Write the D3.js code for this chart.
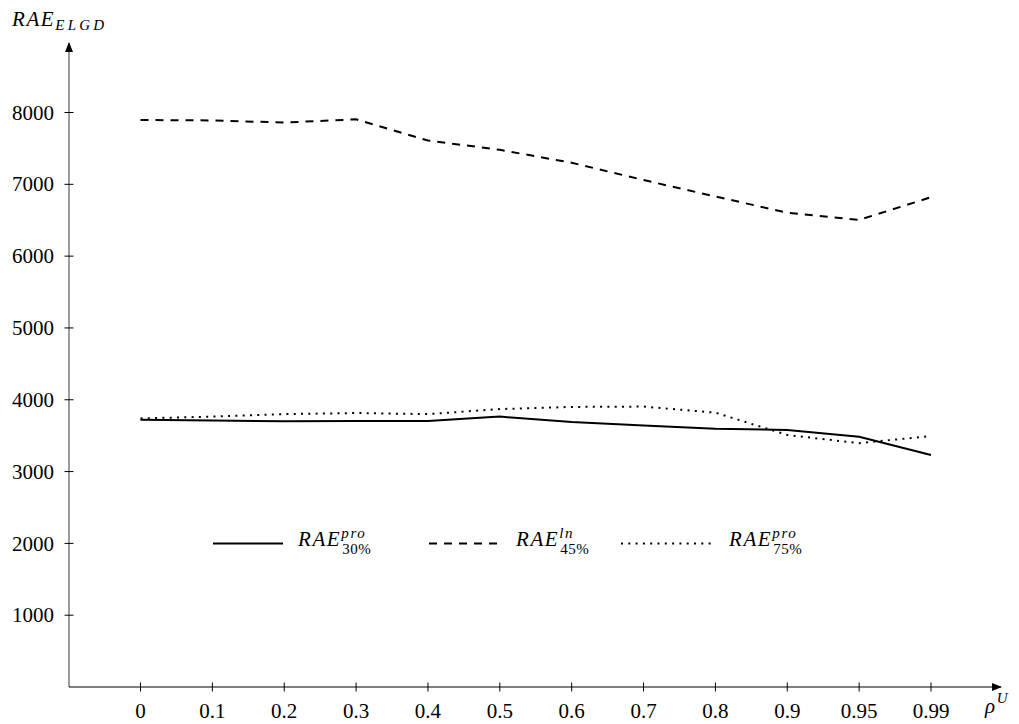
<!DOCTYPE html>
<html>
<head>
<meta charset="utf-8">
<script src="https://d3js.org/d3.v7.min.js"></script>
<style>
  body { margin: 0; background: #fff; }
  text { font-family: "Liberation Serif", "DejaVu Serif", serif; fill: #000; }
  .math { font-style: italic; letter-spacing: 1.6px; }
</style>
</head>
<body>
<svg id="chart" width="1019" height="724"></svg>
<script>
// categories on the x axis (evenly spaced)
var rhoLabels = ["0", "0.1", "0.2", "0.3", "0.4", "0.5", "0.6", "0.7", "0.8", "0.9", "0.95", "0.99"];

// series values
var rae30pro = [3720, 3710, 3700, 3705, 3705, 3765, 3690, 3640, 3595, 3580, 3485, 3230];
var rae45ln  = [7895, 7890, 7860, 7905, 7610, 7480, 7300, 7060, 6830, 6605, 6505, 6820];
var rae75pro = [3740, 3765, 3800, 3815, 3800, 3870, 3900, 3905, 3820, 3510, 3395, 3495];

var yTicks = [1000, 2000, 3000, 4000, 5000, 6000, 7000, 8000];

var svg = d3.select("#chart");

// axes origin
var x0 = 69, y0 = 687;

// x scale : point scale over categories
var x = d3.scalePoint()
    .domain(rhoLabels)
    .range([140.5, 931]);

// y scale
var y = d3.scaleLinear()
    .domain([0, 8000])
    .range([y0, 112.5]);

// arrow heads
var defs = svg.append("defs");
defs.append("marker")
    .attr("id", "arrowBlack")
    .attr("viewBox", "0 0 10 10")
    .attr("refX", 9).attr("refY", 5)
    .attr("markerWidth", 10).attr("markerHeight", 10)
    .attr("markerUnits", "userSpaceOnUse")
    .attr("orient", "auto")
    .append("path").attr("d", "M0,1 L10,5 L0,9 Z").attr("fill", "#000");

// y axis (greyish line)
svg.append("line")
    .attr("x1", x0).attr("y1", y0)
    .attr("x2", x0).attr("y2", 43)
    .attr("stroke", "#666").attr("stroke-width", 1.3)
    .attr("marker-end", "url(#arrowBlack)");

// x axis
svg.append("line")
    .attr("x1", x0).attr("y1", y0)
    .attr("x2", 1001).attr("y2", y0)
    .attr("stroke", "#000").attr("stroke-width", 1.2)
    .attr("marker-end", "url(#arrowBlack)");

// x ticks + labels
var xt = svg.append("g").selectAll("g")
    .data(rhoLabels)
    .enter().append("g")
    .attr("transform", function (d) { return "translate(" + x(d) + "," + y0 + ")"; });
xt.append("line")
    .attr("y1", -4.5).attr("y2", 4.5)
    .attr("stroke", "#000").attr("stroke-width", 1);
xt.append("text")
    .attr("y", 31)
    .attr("text-anchor", "middle")
    .style("font-size", "21px")
    .text(function (d) { return d; });

// y ticks + labels
var yt = svg.append("g").selectAll("g")
    .data(yTicks)
    .enter().append("g")
    .attr("transform", function (d) { return "translate(" + x0 + "," + y(d) + ")"; });
yt.append("line")
    .attr("x1", -4.5).attr("x2", 4.5)
    .attr("stroke", "#000").attr("stroke-width", 1);
yt.append("text")
    .attr("x", -15)
    .attr("dy", "0.34em")
    .attr("text-anchor", "end")
    .style("font-size", "21px")
    .text(function (d) { return d; });

// axis titles
var yTitle = svg.append("text")
    .attr("class", "math")
    .attr("x", 12).attr("y", 26)
    .style("font-size", "21px");
yTitle.append("tspan").text("RAE");
yTitle.append("tspan").attr("dy", 4).style("font-size", "15px").style("letter-spacing", "3.2px").text("ELGD");

var xTitle = svg.append("text")
    .attr("class", "math")
    .attr("x", 985).attr("y", 713)
    .style("font-size", "21px");
xTitle.append("tspan").text("ρ");
xTitle.append("tspan").attr("dy", -10).style("font-size", "15px").text("U");

// series
var series = [
    { values: rae30pro, dash: null, sup: "pro", sub: "30%" },
    { values: rae45ln, dash: "8,7", sup: "ln", sub: "45%" },
    { values: rae75pro, dash: "2,5.3", sup: "pro", sub: "75%" }
];

var line = d3.line()
    .x(function (d, i) { return x(rhoLabels[i]); })
    .y(function (d) { return y(d); });

svg.append("g").selectAll("path")
    .data(series)
    .enter().append("path")
    .attr("d", function (d) { return line(d.values); })
    .attr("fill", "none")
    .attr("stroke", "#000")
    .attr("stroke-width", 2)
    .attr("stroke-dasharray", function (d) { return d.dash; });

// legend
var legX = [213, 429, 621];
var legW = [70, 72, 93];
var legY = y(2000);
var leg = svg.append("g").selectAll("g")
    .data(series)
    .enter().append("g")
    .attr("transform", function (d, i) { return "translate(" + legX[i] + "," + legY + ")"; });
leg.append("line")
    .attr("x1", 0).attr("x2", function (d, i) { return legW[i]; })
    .attr("stroke", "#000").attr("stroke-width", 2)
    .attr("stroke-dasharray", function (d) { return d.dash; });
var lt = leg.append("text")
    .attr("class", "math")
    .attr("x", function (d, i) { return legW[i] + 15; })
    .attr("y", 2.5)
    .style("font-size", "21px");
var main = lt.append("tspan").text("RAE");
lt.append("tspan").attr("dy", -8).style("font-size", "15px").text(function (d) { return d.sup; });
// subscript starts right after "RAE", under the superscript
lt.append("tspan")
    .attr("x", function (d, i) { return legW[i] + 15 + main.nodes()[i].getComputedTextLength() + 1; })
    .attr("dy", 16).style("font-size", "15px").style("font-style", "normal").style("letter-spacing", "0.5px")
    .text(function (d) { return d.sub; });
</script>
</body>
</html>
